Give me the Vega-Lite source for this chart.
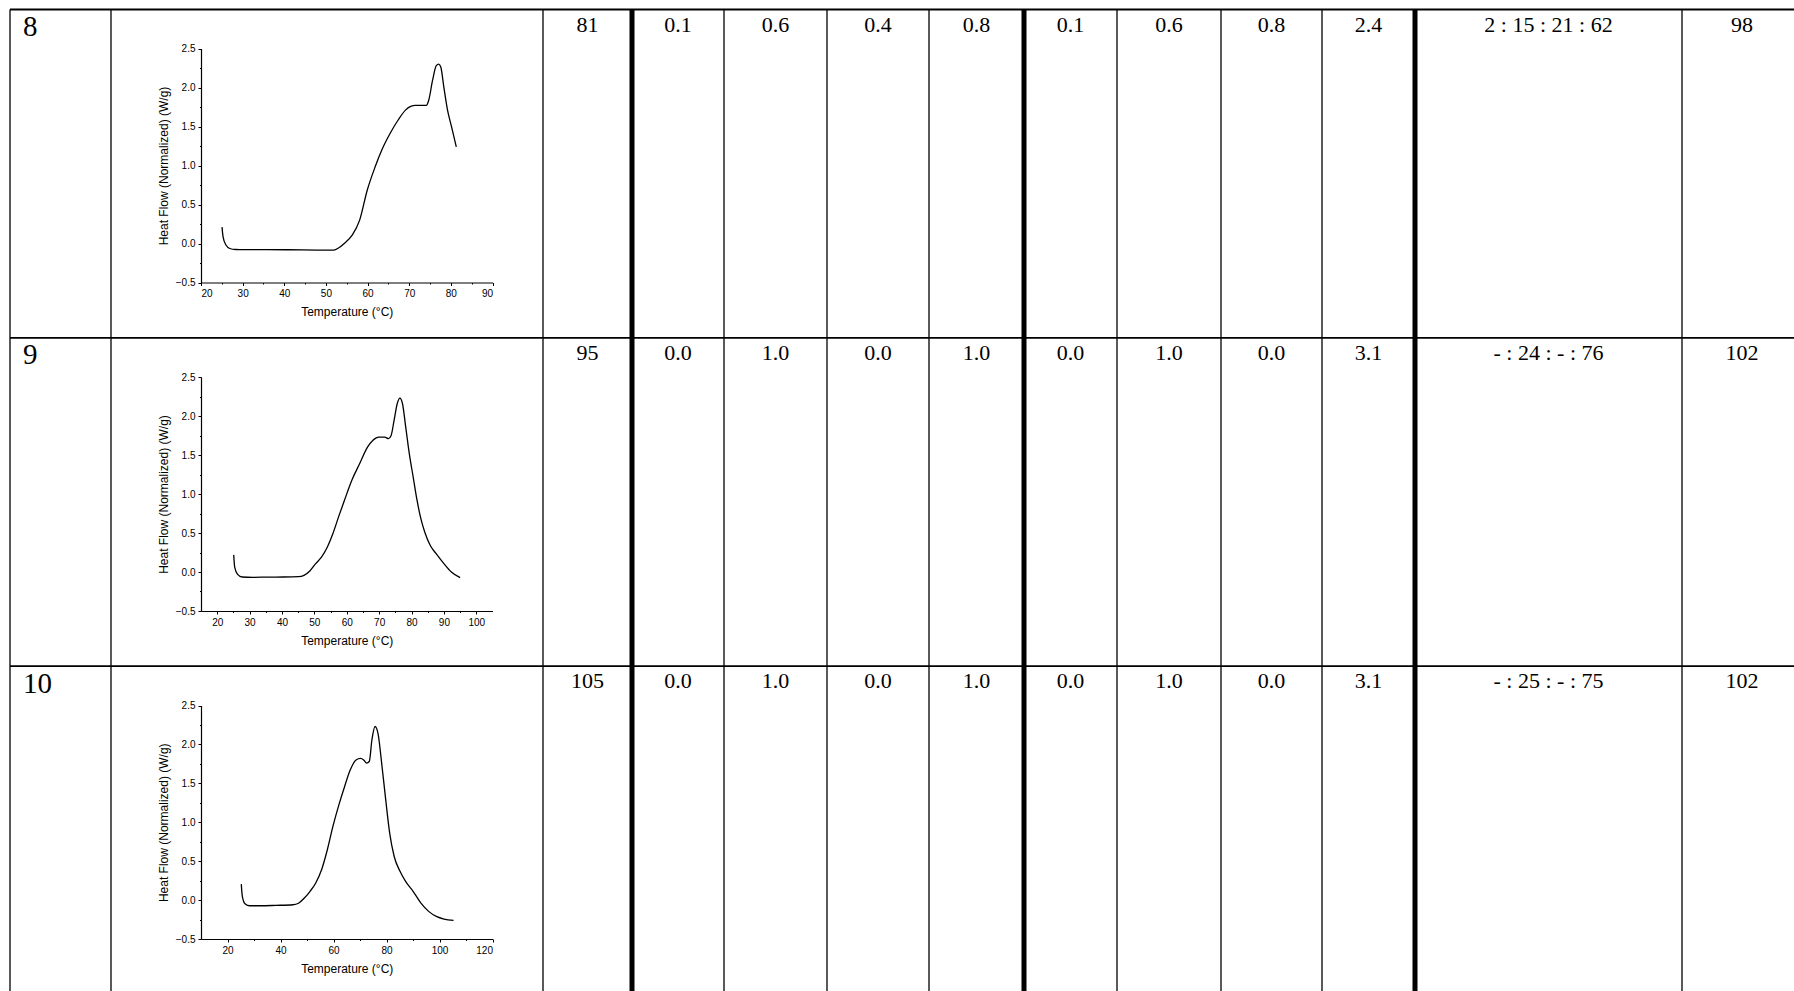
{
  "$schema": "https://vega.github.io/schema/vega-lite/v6.json",
  "width": 1794,
  "height": 991,
  "autosize": {"type": "none"},
  "padding": 0,
  "background": "white",
  "config": {
    "view": {"stroke": null},
    "axis": {
      "grid": false,
      "labelFont": "Liberation Sans",
      "labelFontSize": 10,
      "labelColor": "black",
      "titleFont": "Liberation Sans",
      "titleFontSize": 12,
      "titleFontWeight": "normal",
      "titleColor": "black",
      "domainColor": "black",
      "domainWidth": 1.2,
      "tickColor": "black",
      "tickWidth": 1,
      "tickSize": 3
    }
  },
  "datasets": {
    "samples": [
      {"row": 0, "no": "8", "T": "81", "c1": "0.1", "c2": "0.6", "c3": "0.4", "c4": "0.8", "d1": "0.1", "d2": "0.6", "d3": "0.8", "d4": "2.4", "ratio": "2 : 15 : 21 : 62", "last": "98"},
      {"row": 1, "no": "9", "T": "95", "c1": "0.0", "c2": "1.0", "c3": "0.0", "c4": "1.0", "d1": "0.0", "d2": "1.0", "d3": "0.0", "d4": "3.1", "ratio": "- : 24 : - : 76", "last": "102"},
      {"row": 2, "no": "10", "T": "105", "c1": "0.0", "c2": "1.0", "c3": "0.0", "c4": "1.0", "d1": "0.0", "d2": "1.0", "d3": "0.0", "d4": "3.1", "ratio": "- : 25 : - : 75", "last": "102"}
    ],
    "columns": [
      {"key": "T", "mid": 2.5}, {"key": "c1", "mid": 3.5}, {"key": "c2", "mid": 4.5}, {"key": "c3", "mid": 5.5},
      {"key": "c4", "mid": 6.5}, {"key": "d1", "mid": 7.5}, {"key": "d2", "mid": 8.5}, {"key": "d3", "mid": 9.5},
      {"key": "d4", "mid": 10.5}, {"key": "ratio", "mid": 11.5}, {"key": "last", "mid": 12.5}
    ],
    "vlines": [
      {"col": 0, "kind": "thin"}, {"col": 1, "kind": "thin"}, {"col": 2, "kind": "thin"}, {"col": 3, "kind": "thick"},
      {"col": 4, "kind": "thin"}, {"col": 5, "kind": "thin"}, {"col": 6, "kind": "thin"}, {"col": 7, "kind": "thick"},
      {"col": 8, "kind": "thin"}, {"col": 9, "kind": "thin"}, {"col": 10, "kind": "thin"}, {"col": 11, "kind": "thick"},
      {"col": 12, "kind": "thin"}, {"col": 13, "kind": "thin"}
    ],
    "hlines": [{"row": 0}, {"row": 1}, {"row": 2}, {"row": 3}],
    "dsc8": [
      {"T": 25.05, "HF": 0.21}, {"T": 25.3, "HF": 0.085}, {"T": 26.0, "HF": -0.02}, {"T": 26.9, "HF": -0.064},
      {"T": 28.3, "HF": -0.077}, {"T": 30.6, "HF": -0.078}, {"T": 40.7, "HF": -0.08}, {"T": 49.9, "HF": -0.085},
      {"T": 51.9, "HF": -0.085}, {"T": 53.1, "HF": -0.055}, {"T": 54.4, "HF": 0.0}, {"T": 56.3, "HF": 0.107},
      {"T": 58.1, "HF": 0.3}, {"T": 59.9, "HF": 0.68}, {"T": 61.8, "HF": 0.98}, {"T": 63.6, "HF": 1.22},
      {"T": 65.4, "HF": 1.41}, {"T": 67.3, "HF": 1.58}, {"T": 69.1, "HF": 1.71}, {"T": 70.5, "HF": 1.76},
      {"T": 71.4, "HF": 1.77}, {"T": 72.8, "HF": 1.77}, {"T": 74.1, "HF": 1.77}, {"T": 74.7, "HF": 1.84},
      {"T": 75.6, "HF": 2.09}, {"T": 76.5, "HF": 2.28}, {"T": 77.1, "HF": 2.3}, {"T": 77.6, "HF": 2.26},
      {"T": 78.3, "HF": 2.01}, {"T": 79.2, "HF": 1.71}, {"T": 80.2, "HF": 1.49}, {"T": 81.3, "HF": 1.24}
    ],
    "dsc9": [
      {"T": 25.1, "HF": 0.22}, {"T": 25.4, "HF": 0.064}, {"T": 26.3, "HF": -0.03}, {"T": 27.7, "HF": -0.064},
      {"T": 31.0, "HF": -0.068}, {"T": 35.7, "HF": -0.065}, {"T": 40.4, "HF": -0.064}, {"T": 45.1, "HF": -0.06},
      {"T": 46.8, "HF": -0.043}, {"T": 48.6, "HF": 0.013}, {"T": 50.4, "HF": 0.107}, {"T": 52.2, "HF": 0.19},
      {"T": 53.9, "HF": 0.31}, {"T": 55.7, "HF": 0.49}, {"T": 57.5, "HF": 0.71}, {"T": 59.3, "HF": 0.92},
      {"T": 61.6, "HF": 1.18}, {"T": 64.0, "HF": 1.39}, {"T": 66.4, "HF": 1.6}, {"T": 68.1, "HF": 1.69},
      {"T": 69.9, "HF": 1.73}, {"T": 71.7, "HF": 1.73}, {"T": 72.9, "HF": 1.71}, {"T": 73.7, "HF": 1.75},
      {"T": 74.6, "HF": 1.94}, {"T": 75.6, "HF": 2.16}, {"T": 76.4, "HF": 2.23}, {"T": 77.2, "HF": 2.16},
      {"T": 78.2, "HF": 1.86}, {"T": 79.3, "HF": 1.52}, {"T": 80.5, "HF": 1.22}, {"T": 81.7, "HF": 0.92},
      {"T": 82.9, "HF": 0.68}, {"T": 84.1, "HF": 0.51}, {"T": 85.8, "HF": 0.34}, {"T": 87.6, "HF": 0.235},
      {"T": 90.0, "HF": 0.107}, {"T": 92.3, "HF": 0.0}, {"T": 95.0, "HF": -0.073}
    ],
    "dsc10": [
      {"T": 25.2, "HF": 0.205}, {"T": 25.6, "HF": 0.047}, {"T": 26.6, "HF": -0.047}, {"T": 28.4, "HF": -0.073},
      {"T": 32.4, "HF": -0.073}, {"T": 38.2, "HF": -0.068}, {"T": 44.7, "HF": -0.06}, {"T": 46.8, "HF": -0.04},
      {"T": 49.0, "HF": 0.026}, {"T": 51.1, "HF": 0.11}, {"T": 53.3, "HF": 0.22}, {"T": 55.5, "HF": 0.39},
      {"T": 57.7, "HF": 0.65}, {"T": 59.8, "HF": 0.95}, {"T": 62.0, "HF": 1.22}, {"T": 64.2, "HF": 1.46},
      {"T": 66.3, "HF": 1.67}, {"T": 68.5, "HF": 1.8}, {"T": 70.2, "HF": 1.82}, {"T": 71.4, "HF": 1.8},
      {"T": 72.5, "HF": 1.76}, {"T": 73.5, "HF": 1.78}, {"T": 74.5, "HF": 2.06}, {"T": 75.7, "HF": 2.23},
      {"T": 76.8, "HF": 2.14}, {"T": 78.3, "HF": 1.72}, {"T": 79.7, "HF": 1.29}, {"T": 81.2, "HF": 0.86},
      {"T": 82.9, "HF": 0.56}, {"T": 85.1, "HF": 0.37}, {"T": 87.2, "HF": 0.24}, {"T": 90.1, "HF": 0.11},
      {"T": 93.0, "HF": -0.04}, {"T": 95.9, "HF": -0.145}, {"T": 98.8, "HF": -0.21}, {"T": 101.7, "HF": -0.244},
      {"T": 105.3, "HF": -0.26}
    ]
  },
  "layer": [
    {
      "layer": [
        {
          "data": {"name": "vlines"},
          "transform": [{"filter": "datum.kind === 'thin'"}],
          "mark": {"type": "rule", "color": "black", "strokeWidth": 1.3},
          "encoding": {
            "x": {"field": "col", "type": "quantitative", "axis": null,
                  "scale": {"domain": [0,1,2,3,4,5,6,7,8,9,10,11,12,13], "range": [10,111,543,632,724,827,929,1024,1117,1221,1322,1415,1682,1802], "nice": false, "zero": false}},
            "y": {"datum": 0, "type": "quantitative", "axis": null, "scale": {"domain": [0, 3], "range": [9.5, 994.5], "nice": false, "zero": false}},
            "y2": {"datum": 3}
          }
        },
        {
          "data": {"name": "vlines"},
          "transform": [{"filter": "datum.kind === 'thick'"}],
          "mark": {"type": "rule", "color": "black", "strokeWidth": 5},
          "encoding": {
            "x": {"field": "col", "type": "quantitative", "axis": null},
            "y": {"datum": 0, "type": "quantitative", "axis": null},
            "y2": {"datum": 3}
          }
        },
        {
          "data": {"name": "hlines"},
          "mark": {"type": "rule", "color": "black", "strokeWidth": 1.8},
          "encoding": {
            "x": {"datum": 0, "type": "quantitative", "axis": null},
            "x2": {"datum": 13},
            "y": {"field": "row", "type": "quantitative", "axis": null}
          }
        },
        {
          "data": {"name": "samples"},
          "mark": {"type": "text", "font": "Liberation Serif", "fontSize": 29, "align": "left", "baseline": "alphabetic", "dx": 13, "dy": 26.5, "color": "black"},
          "encoding": {
            "x": {"datum": 0, "type": "quantitative", "axis": null},
            "y": {"field": "row", "type": "quantitative", "axis": null},
            "text": {"field": "no"}
          }
        },
        {
          "data": {"name": "samples"},
          "transform": [
            {"fold": ["T", "c1", "c2", "c3", "c4", "d1", "d2", "d3", "d4", "ratio", "last"], "as": ["key", "value"]},
            {"lookup": "key", "from": {"data": {"name": "columns"}, "key": "key", "fields": ["mid"]}}
          ],
          "mark": {"type": "text", "font": "Liberation Serif", "fontSize": 22, "align": "center", "baseline": "alphabetic", "dy": 22, "color": "black"},
          "encoding": {
            "x": {"field": "mid", "type": "quantitative", "axis": null},
            "y": {"field": "row", "type": "quantitative", "axis": null},
            "text": {"field": "value"}
          }
        }
      ]
    },
    {
      "data": {"name": "dsc8"},
      "mark": {"type": "line", "color": "black", "strokeWidth": 1.3, "interpolate": "monotone"},
      "encoding": {
        "x": {"field": "T", "type": "quantitative",
              "scale": {"domain": [20, 90], "range": [201, 492.5], "nice": false, "zero": false},
              "axis": {"orient": "bottom", "offset": -708.5, "values": [20,30,40,50,60,70,80,90], "title": "Temperature (°C)", "labelPadding": 3, "titlePadding": 8}},
        "y": {"field": "HF", "type": "quantitative",
              "scale": {"domain": [-0.5, 2.5], "range": [282.5, 48.5], "nice": false, "zero": false},
              "axis": {"orient": "left", "offset": -201, "values": [-0.5,0,0.5,1,1.5,2,2.5], "format": ".1f", "title": "Heat Flow (Normalized) (W/g)", "labelPadding": 3, "titlePadding": 5}}
      }
    },
    {
      "data": {"name": "dsc8"},
      "mark": {"type": "line", "strokeOpacity": 0},
      "encoding": {
        "x": {"field": "T", "type": "quantitative",
              "scale": {"domain": [20, 90], "range": [201, 492.5], "nice": false, "zero": false},
              "axis": {"orient": "bottom", "offset": -708.5, "values": [25,35,45,55,65,75,85], "labels": false, "domain": false, "tickSize": 1.5, "title": null}},
        "y": {"field": "HF", "type": "quantitative",
              "scale": {"domain": [-0.5, 2.5], "range": [282.5, 48.5], "nice": false, "zero": false},
              "axis": {"orient": "left", "offset": -201, "values": [-0.25,0.25,0.75,1.25,1.75,2.25], "labels": false, "domain": false, "tickSize": 1.5, "title": null}}
      }
    },
    {
      "data": {"name": "dsc9"},
      "mark": {"type": "line", "color": "black", "strokeWidth": 1.3, "interpolate": "monotone"},
      "encoding": {
        "x": {"field": "T", "type": "quantitative",
              "scale": {"domain": [15, 105], "range": [201, 492.5], "nice": false, "zero": false},
              "axis": {"orient": "bottom", "offset": -380, "values": [20,30,40,50,60,70,80,90,100], "title": "Temperature (°C)", "labelPadding": 3, "titlePadding": 8}},
        "y": {"field": "HF", "type": "quantitative",
              "scale": {"domain": [-0.5, 2.5], "range": [611, 377], "nice": false, "zero": false},
              "axis": {"orient": "left", "offset": -201, "values": [-0.5,0,0.5,1,1.5,2,2.5], "format": ".1f", "title": "Heat Flow (Normalized) (W/g)", "labelPadding": 3, "titlePadding": 5}}
      }
    },
    {
      "data": {"name": "dsc9"},
      "mark": {"type": "line", "strokeOpacity": 0},
      "encoding": {
        "x": {"field": "T", "type": "quantitative",
              "scale": {"domain": [15, 105], "range": [201, 492.5], "nice": false, "zero": false},
              "axis": {"orient": "bottom", "offset": -380, "values": [25,35,45,55,65,75,85,95], "labels": false, "domain": false, "tickSize": 1.5, "title": null}},
        "y": {"field": "HF", "type": "quantitative",
              "scale": {"domain": [-0.5, 2.5], "range": [611, 377], "nice": false, "zero": false},
              "axis": {"orient": "left", "offset": -201, "values": [-0.25,0.25,0.75,1.25,1.75,2.25], "labels": false, "domain": false, "tickSize": 1.5, "title": null}}
      }
    },
    {
      "data": {"name": "dsc10"},
      "mark": {"type": "line", "color": "black", "strokeWidth": 1.3, "interpolate": "monotone"},
      "encoding": {
        "x": {"field": "T", "type": "quantitative",
              "scale": {"domain": [10, 120], "range": [201, 492.5], "nice": false, "zero": false},
              "axis": {"orient": "bottom", "offset": -52, "values": [20,40,60,80,100,120], "title": "Temperature (°C)", "labelPadding": 3, "titlePadding": 8}},
        "y": {"field": "HF", "type": "quantitative",
              "scale": {"domain": [-0.5, 2.5], "range": [939, 705.5], "nice": false, "zero": false},
              "axis": {"orient": "left", "offset": -201, "values": [-0.5,0,0.5,1,1.5,2,2.5], "format": ".1f", "title": "Heat Flow (Normalized) (W/g)", "labelPadding": 3, "titlePadding": 5}}
      }
    },
    {
      "data": {"name": "dsc10"},
      "mark": {"type": "line", "strokeOpacity": 0},
      "encoding": {
        "x": {"field": "T", "type": "quantitative",
              "scale": {"domain": [10, 120], "range": [201, 492.5], "nice": false, "zero": false},
              "axis": {"orient": "bottom", "offset": -52, "values": [30,50,70,90,110], "labels": false, "domain": false, "tickSize": 1.5, "title": null}},
        "y": {"field": "HF", "type": "quantitative",
              "scale": {"domain": [-0.5, 2.5], "range": [939, 705.5], "nice": false, "zero": false},
              "axis": {"orient": "left", "offset": -201, "values": [-0.25,0.25,0.75,1.25,1.75,2.25], "labels": false, "domain": false, "tickSize": 1.5, "title": null}}
      }
    }
  ],
  "resolve": {
    "scale": {"x": "independent", "y": "independent"},
    "axis": {"x": "independent", "y": "independent"}
  }
}
